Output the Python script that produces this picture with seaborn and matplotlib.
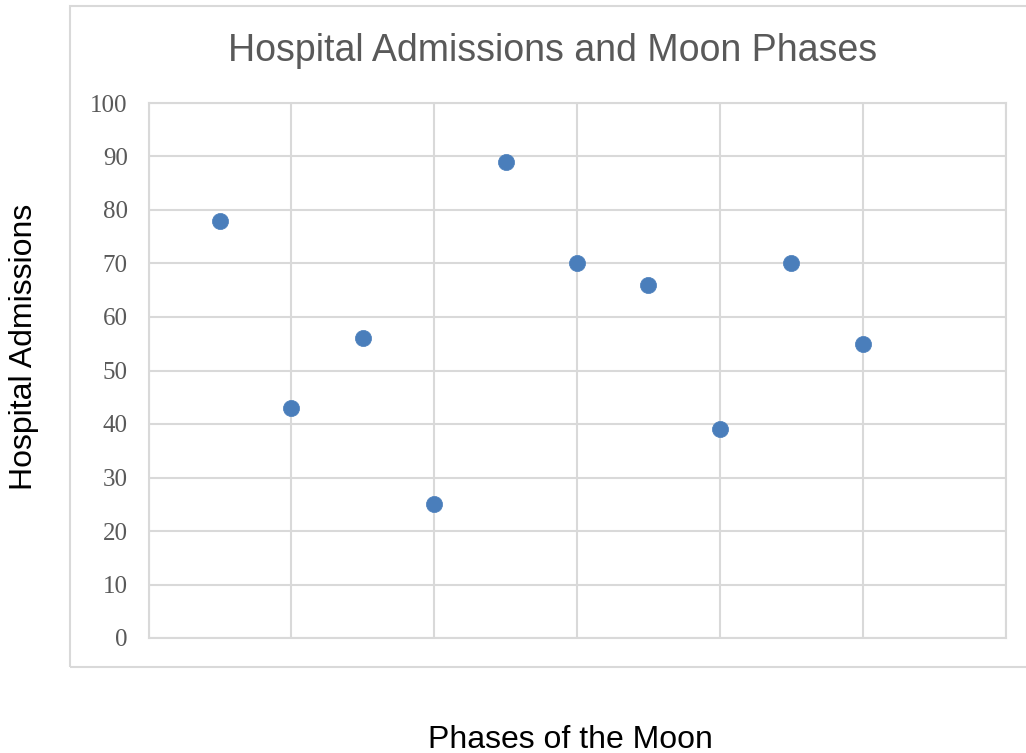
import matplotlib
matplotlib.use("Agg")
import matplotlib.pyplot as plt
import seaborn as sns
import pandas as pd
from matplotlib.patches import Rectangle

phase = [1, 2, 3, 4, 5, 6, 7, 8, 9, 10]
admissions = [78, 43, 56, 25, 89, 70, 66, 39, 70, 55]
title = "Hospital Admissions and Moon Phases"
xlabel = "Phases of the Moon"
ylabel = "Hospital Admissions"
yticks = list(range(0, 101, 10))
xgrid = list(range(0, 13, 2))

df = pd.DataFrame({"phase": phase, "admissions": admissions})

sns.set_theme(style="white")
plt.rcParams["font.family"] = ["Liberation Sans", "DejaVu Sans"]

fig = plt.figure(figsize=(10.26, 7.53), dpi=100)
ax = fig.add_axes([148.6 / 1026, 1 - 638 / 753, (1005.5 - 148.6) / 1026, (638 - 103) / 753])

# chart border
fig.patches.append(Rectangle((70 / 1026, 1 - 667 / 753), 1.0, (667 - 6) / 753,
                             transform=fig.transFigure, fill=False,
                             edgecolor="#D9D9D9", linewidth=1.5, zorder=0))

sns.scatterplot(data=df, x="phase", y="admissions", ax=ax, s=135,
                color="#4A7EBB", edgecolor="#4A7EBB", linewidth=0.5, zorder=3)

ax.set_xlim(0, 12)
ax.set_ylim(0, 100)
ax.set_xticks(xgrid)
ax.set_yticks(yticks)
ax.set_xticklabels([])
ax.set_yticklabels([str(v) for v in yticks], fontfamily="Liberation Serif",
                   fontsize=18, color="#595959")
ax.tick_params(axis="both", length=0)
ax.tick_params(axis="y", pad=15)
ax.grid(True, color="#D9D9D9", linewidth=1.5)
ax.set_axisbelow(True)
for sp in ax.spines.values():
    sp.set_color("#D9D9D9")
    sp.set_linewidth(1.5)
ax.set_xlabel("")
ax.set_ylabel("")

fig.text(553 / 1026, 1 - 51 / 753, title, ha="center", va="center",
         fontsize=27, color="#595959")
fig.text(24 / 1026, 1 - 347 / 753, ylabel, ha="center", va="center",
         rotation=90, fontsize=23, color="black")
fig.text(570 / 1026, 1 - 740 / 753, xlabel, ha="center", va="center",
         fontsize=23, color="black")

fig.savefig("out.png", dpi=100)
